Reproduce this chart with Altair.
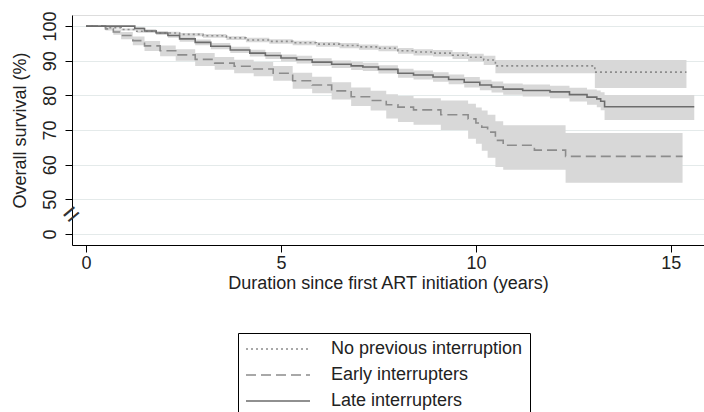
import altair as alt
import pandas as pd

# Kaplan-Meier estimates (step points) with 95% confidence limits, survival in %
groups = ["No previous interruption", "Early interrupters", "Late interrupters"]

t_np = [0, 0.5, 0.9, 1.3, 1.8, 2.4, 3.0, 3.6, 4.1, 4.7, 5.3, 5.9, 6.5, 7.0, 7.5, 8.0, 8.4, 8.9, 9.4, 9.8, 10.2, 10.5, 13.05, 15.4]
s_np = [100, 99.5, 99.0, 98.5, 98.0, 97.6, 97.2, 96.6, 96.0, 95.6, 95.2, 94.8, 94.4, 94.0, 93.6, 92.9, 92.5, 92.2, 91.6, 91.0, 90.2, 88.5, 86.7, 86.7]
lo_np = [100, 99.3, 98.7, 98.1, 97.5, 97.1, 96.6, 96.0, 95.3, 94.9, 94.5, 94.0, 93.6, 93.2, 92.7, 92.0, 91.5, 91.2, 90.5, 89.8, 88.8, 86.4, 82.1, 82.1]
hi_np = [100, 99.7, 99.3, 98.8, 98.4, 98.0, 97.7, 97.1, 96.6, 96.2, 95.8, 95.4, 95.1, 94.7, 94.3, 93.7, 93.3, 93.1, 92.5, 92.0, 91.4, 90.2, 90.2, 90.2]

t_ei = [0, 0.5, 0.7, 0.9, 1.2, 1.5, 1.9, 2.3, 2.8, 3.3, 3.8, 4.3, 4.8, 5.3, 5.8, 6.3, 6.8, 7.3, 7.7, 8.0, 8.4, 9.1, 9.8, 10.0, 10.15, 10.3, 10.5, 10.7, 11.5, 12.3, 15.3]
s_ei = [100, 99.2, 98.3, 97.3, 95.8, 94.3, 92.9, 91.7, 90.4, 89.3, 88.4, 87.6, 86.4, 84.2, 83.0, 81.3, 79.6, 78.5, 77.3, 76.6, 75.8, 74.4, 73.2, 72.0, 70.8, 69.4, 67.0, 65.6, 64.2, 62.4, 62.4]
lo_ei = [100, 98.7, 97.5, 96.2, 94.5, 92.8, 91.3, 90.0, 88.5, 87.4, 86.4, 85.5, 84.2, 81.9, 80.6, 78.8, 76.9, 75.6, 73.3, 72.3, 71.5, 70.0, 67.5, 66.0, 64.0, 62.0, 59.3, 58.5, 58.5, 54.8, 54.8]
hi_ei = [100, 99.6, 99.0, 98.3, 97.0, 95.7, 94.4, 93.3, 92.2, 91.1, 90.3, 89.6, 88.5, 86.5, 85.4, 83.8, 82.3, 81.3, 80.3, 79.8, 79.2, 78.5, 77.6, 76.5, 75.6, 74.4, 72.5, 71.4, 71.4, 69.1, 69.1]

t_li = [0, 1.25, 1.5, 1.8, 2.1, 2.4, 2.8, 3.2, 3.7, 4.2, 4.6, 5.0, 5.4, 5.8, 6.3, 6.8, 7.1, 7.5, 8.0, 8.4, 8.9, 9.3, 9.7, 10.1, 10.4, 10.7, 11.2, 11.9, 12.4, 12.85, 13.1, 13.2, 13.3, 15.6]
s_li = [100, 99.3, 98.6, 98.0, 97.3, 96.3, 95.3, 94.2, 93.1, 92.2, 91.5, 90.8, 90.3, 89.6, 89.0, 88.5, 88.2, 87.5, 86.4, 85.9, 85.3, 84.6, 83.8, 83.0, 82.4, 81.8, 81.4, 81.0, 80.2, 79.5, 79.0, 78.3, 76.7, 76.7]
lo_li = [100, 98.9, 98.1, 97.4, 96.6, 95.5, 94.5, 93.3, 92.2, 91.2, 90.5, 89.8, 89.2, 88.5, 87.9, 87.3, 87.0, 86.3, 85.1, 84.6, 83.9, 83.2, 82.3, 81.5, 80.8, 80.2, 79.7, 79.2, 78.2, 77.3, 76.6, 75.7, 72.9, 72.9]
hi_li = [100, 99.7, 99.1, 98.6, 98.0, 97.1, 96.1, 95.1, 94.0, 93.2, 92.5, 91.8, 91.4, 90.7, 90.1, 89.7, 89.4, 88.7, 87.7, 87.2, 86.7, 86.0, 85.3, 84.5, 84.0, 83.4, 83.1, 82.8, 82.2, 81.7, 81.4, 80.9, 80.1, 80.1]

y_ticks = [40, 50, 60, 70, 80, 90, 100]   # 40 marks the broken-axis "0"
x_ticks = [0, 5, 10, 15]

frames = []
for g, t, s, lo, hi in [
    (groups[0], t_np, s_np, lo_np, hi_np),
    (groups[1], t_ei, s_ei, lo_ei, hi_ei),
    (groups[2], t_li, s_li, lo_li, hi_li),
]:
    frames.append(pd.DataFrame({"group": g, "t": t, "s": s, "lo": lo, "hi": hi}))
df = pd.concat(frames, ignore_index=True)

FONT = "Liberation Sans"
TXT = "#222222"

x_scale = alt.Scale(domain=[-0.36, 15.85], nice=False, zero=False)
y_scale = alt.Scale(domain=[36.8, 103.2], nice=False, zero=False)

x_axis = alt.Axis(values=x_ticks, grid=False, tickSize=7, labelPadding=2,
                  labelFontSize=18, titleFontSize=18,
                  titlePadding=2, labelFlush=False, labelOverlap=False,
                  title="Duration since first ART initiation (years)")
y_axis = alt.Axis(values=y_ticks, labelExpr="datum.value == 40 ? '0' : datum.label",
                  labelAngle=270, labelAlign="center", labelBaseline="bottom",
                  labelFontSize=18, titleFontSize=18,
                  tickSize=7, labelPadding=6, grid=True, gridColor="#e4eaea",
                  labelOverlap=False, labelFlush=False,
                  titleAngle=270, titleX=-52, titleY=115, titleAlign="center",
                  titleBaseline="middle", title="Overall survival (%)")

# non-breaking spaces widen the legend frame on the right
legend = alt.Legend(orient="none", legendX=166, legendY=318, title=None,
                    padding=7, strokeColor="black", fillColor="white",
                    symbolType="M-4,0H4", symbolSize=256,
                    symbolOffset=24, labelOffset=44, labelLimit=400,
                    symbolStrokeWidth=1.5, labelFontSize=18,
                    labelFont=FONT, labelColor=TXT, rowPadding=8,
                    labelExpr="datum.label + '\u00a0\u00a0\u00a0'")

base = alt.Chart(df)

bands = base.mark_area(interpolate="step-after", color="#d8d8d8", opacity=1).encode(
    x=alt.X("t:Q", scale=x_scale, axis=x_axis),
    y=alt.Y("lo:Q", scale=y_scale, axis=y_axis),
    y2="hi:Q",
    detail="group:N",
)

lines = base.mark_line(interpolate="step-after", strokeWidth=1.6).encode(
    x=alt.X("t:Q", scale=x_scale, axis=x_axis),
    y=alt.Y("s:Q", scale=y_scale, axis=y_axis),
    color=alt.Color("group:N",
                    scale=alt.Scale(domain=groups, range=["#8c8c8c", "#8c8c8c", "#6c6c6c"]),
                    legend=legend),
    strokeDash=alt.StrokeDash("group:N",
                              scale=alt.Scale(domain=groups, range=[[2, 3], [10, 5], [1, 0]]),
                              legend=legend),
    detail="group:N",
)

# axis-break marker drawn across the y axis line, between the 0 and 50 ticks
brk = alt.Chart(pd.DataFrame({"m": ["="]})).mark_text(
    fontSize=28, angle=320, color="#333333", font=FONT
).encode(x=alt.value(0), y=alt.value(200), text="m:N")

chart = alt.layer(bands, lines, brk).properties(
    width=632, height=230,
    autosize=alt.AutoSizeParams(type="none"),
    padding={"left": 72, "top": 15, "right": 0, "bottom": 167},
).configure_view(stroke=None).configure(background="white").configure_axis(
    labelFont=FONT, titleFont=FONT,
    labelColor=TXT, titleColor=TXT, titleFontWeight="normal",
    domainColor="black", tickColor="black",
)

chart.save("out.html", embed_options={"renderer": "svg", "actions": False})
